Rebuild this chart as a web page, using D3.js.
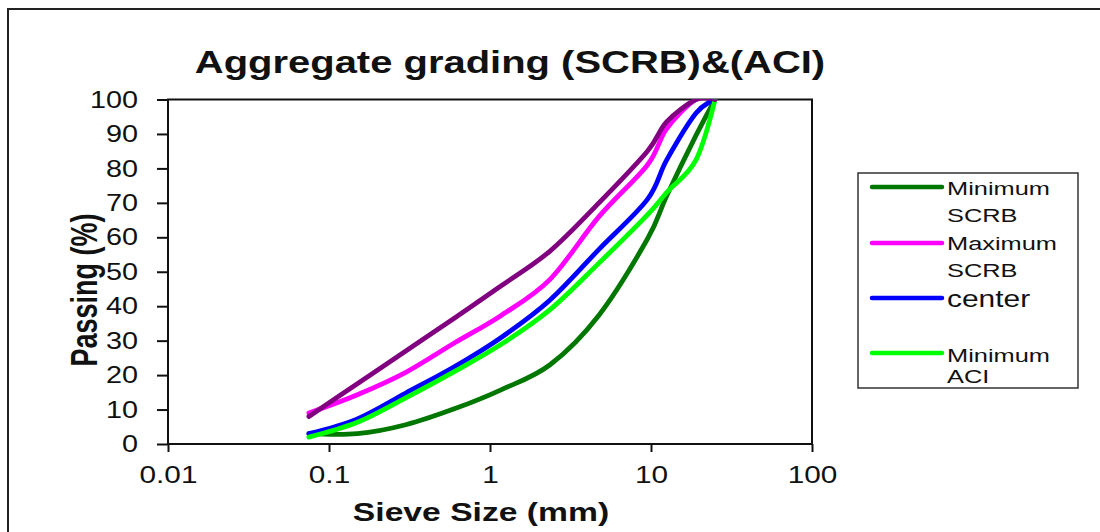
<!DOCTYPE html>
<html>
<head>
<meta charset="utf-8">
<script src="https://cdn.jsdelivr.net/npm/d3@7"></script>
<style>
  body { margin: 0; background: #fff; }
  svg { display: block; font-family: "Liberation Sans", Arial, sans-serif; }
</style>
</head>
<body>
<svg id="chart" width="1100" height="532"></svg>
<script>
// sieve sizes (mm) and % passing
const sieveSizes = [0.075, 0.15, 0.3, 0.6, 1.18, 2.36, 4.75, 9.5, 12.5, 19, 25];
const minSCRB = [3, 3, 5.6, 10.2, 15.8, 23, 37.4, 59.5, 72, 89.5, 100];
const maxSCRB = [9, 14.3, 20.8, 29.3, 37.4, 47.8, 66, 81, 91.5, 100, 100];
const center = [3, 7.3, 14.8, 22.4, 31, 41.8, 56.5, 71, 82.4, 96, 100];
const minACI = [2, 6.3, 13.4, 21, 29, 39, 52.5, 66.5, 73, 82.4, 100];
const maxACI = [8, 17.5, 27, 36.5, 46, 56, 70, 85, 93.5, 100, 100];

const seriesNames = ['Minimum SCRB', 'Maximum SCRB', 'center', 'Minimum ACI', 'Maximum ACI'];
const seriesValues = [minSCRB, maxSCRB, center, minACI, maxACI];
const seriesColors = ['#007700', '#ff00ff', '#0000ff', '#00ff00', '#800080'];

// legend shows only the first four
const legendLines = [['Minimum', 'SCRB'], ['Maximum', 'SCRB'], ['center'], ['Minimum', 'ACI']];

const xTicks = [0.01, 0.1, 1, 10, 100];
const xTickLabels = ['0.01', '0.1', '1', '10', '100'];
const yTicks = d3.range(0, 101, 10);

const svg = d3.select('#chart');

// stretch text horizontally like the original picture
const stretch = (sel, k) => {
    sel.each(function () {
        const w = this.getComputedTextLength();
        d3.select(this).attr('textLength', w * k).attr('lengthAdjust', 'spacingAndGlyphs');
    });
};

// outer frame of the picture
svg.append('rect')
    .attr('x', 8).attr('y', 9)
    .attr('width', 1200).attr('height', 600)
    .attr('fill', 'none').attr('stroke', '#222').attr('stroke-width', 2);

const x = d3.scaleLog().domain([0.01, 100]).range([168, 812]);
const y = d3.scaleLinear().domain([0, 100]).range([444, 99.5]);

// title
svg.append('text')
    .attr('x', 510).attr('y', 73)
    .attr('text-anchor', 'middle')
    .style('font-size', '30.5px').style('font-weight', 'bold').attr('fill', '#111')
    .text('Aggregate grading (SCRB)&(ACI)')
    .call(stretch, 1.31);

// axes
const yAxis = svg.append('g')
    .attr('transform', 'translate(168,0)')
    .call(d3.axisLeft(y).tickValues(yTicks).tickSize(11).tickPadding(19));
yAxis.selectAll('text').style('font-size', '24px').attr('fill', '#111').call(stretch, 1.2);

const xAxis = svg.append('g')
    .attr('transform', 'translate(0,444)')
    .call(d3.axisBottom(x).tickValues(xTicks).tickSize(8).tickPadding(14)
        .tickFormat((d, i) => xTickLabels[i]));
xAxis.selectAll('text').style('font-size', '24px').attr('fill', '#111').call(stretch, 1.24);

svg.selectAll('.domain').remove();
svg.selectAll('.tick line').attr('stroke', '#111').attr('stroke-width', 2);
svg.selectAll('.tick text').attr('font-family', null);

// plot frame
svg.append('rect')
    .attr('x', x(0.01)).attr('y', y(100))
    .attr('width', x(100) - x(0.01)).attr('height', y(0) - y(100))
    .attr('fill', 'none').attr('stroke', '#111').attr('stroke-width', 2);

// keep curves from poking above 100 %
svg.append('clipPath').attr('id', 'plotclip')
    .append('rect')
    .attr('x', x(0.01) - 10).attr('y', y(100))
    .attr('width', x(100) - x(0.01) + 20).attr('height', y(0) - y(100) + 10);

// axis titles
svg.append('text')
    .attr('transform', 'translate(97,290) rotate(-90) scale(1,1.38)')
    .attr('text-anchor', 'middle')
    .style('font-size', '27px').style('font-weight', 'bold').attr('fill', '#111')
    .text('Passing (%)');

svg.append('text')
    .attr('x', 481).attr('y', 521)
    .attr('text-anchor', 'middle')
    .style('font-size', '26.5px').style('font-weight', 'bold').attr('fill', '#111')
    .text('Sieve Size (mm)')
    .call(stretch, 1.27);

// grading curves (smoothed like the spreadsheet)
const line = d3.line()
    .x(d => x(d[0]))
    .y(d => y(d[1]))
    .curve(d3.curveCatmullRom.alpha(0));

svg.append('g')
    .attr('clip-path', 'url(#plotclip)')
    .selectAll('path')
    .data(seriesValues)
    .join('path')
    .attr('d', vals => line(sieveSizes.map((s, i) => [s, vals[i]])))
    .attr('fill', 'none')
    .attr('stroke', (d, i) => seriesColors[i])
    .attr('stroke-width', 4.8)
    .attr('stroke-linejoin', 'round')
    .attr('stroke-linecap', 'round');

// legend
const legend = svg.append('g');
legend.append('rect')
    .attr('x', 858).attr('y', 173)
    .attr('width', 220).attr('height', 215)
    .attr('fill', '#fff').attr('stroke', '#333').attr('stroke-width', 1.5);

const legendLineY = [187, 243, 298, 353];
const legendTextY = [[195, 222], [250, 277], [307], [362, 383]];

legendLines.forEach((lines, i) => {
    legend.append('line')
        .attr('x1', 872).attr('x2', 942)
        .attr('y1', legendLineY[i]).attr('y2', legendLineY[i])
        .attr('stroke', seriesColors[i]).attr('stroke-width', 4.5)
        .attr('stroke-linecap', 'round');
    lines.forEach((t, j) => {
        const big = t === 'center';
        legend.append('text')
            .attr('x', 947).attr('y', legendTextY[i][j])
            .style('font-size', big ? '23px' : '17.5px')
            .attr('fill', '#111')
            .text(t)
            .call(stretch, big ? 1.3 : 1.45);
    });
});
</script>
</body>
</html>
